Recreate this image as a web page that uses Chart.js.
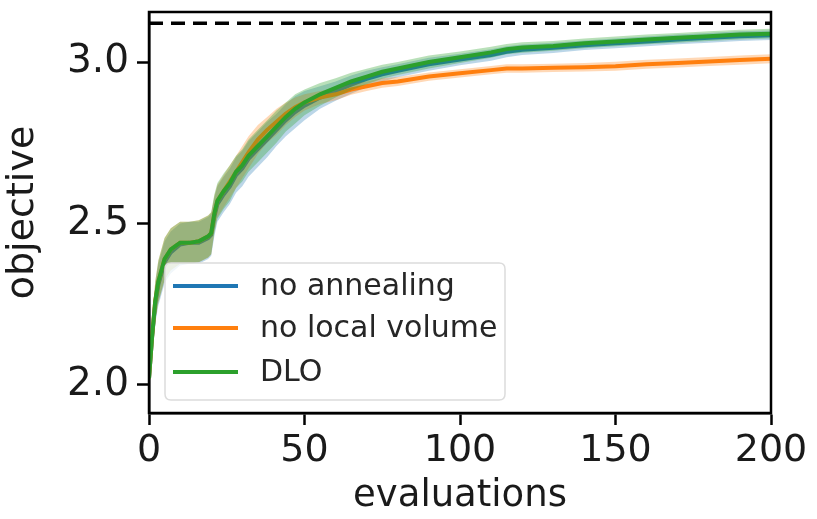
<!DOCTYPE html>
<html>
<head>
<meta charset="utf-8">
<script src="https://cdn.jsdelivr.net/npm/chart.js@4.4.1/dist/chart.umd.min.js"></script>
<style>
html,body{margin:0;padding:0;background:#fff;}
canvas{display:block;}
</style>
</head>
<body>
<canvas id="c" width="817" height="519"></canvas>
<script>
// ---- data ----
const evaluations = [0,1,2,3,5,7,10,13,16,19,20,21,22,24,26,28,30,32,35,38,41,44,47,50,55,60,65,70,75,80,90,100,110,115,120,130,140,150,160,170,180,190,200];

const seriesNames = ["no annealing", "no local volume", "DLO"];

const noAnnealingMean = [2.02,2.15,2.25,2.31,2.38,2.41,2.435,2.44,2.44,2.455,2.465,2.52,2.56,2.59,2.615,2.65,2.67,2.70,2.73,2.76,2.79,2.82,2.845,2.865,2.89,2.91,2.93,2.948,2.962,2.973,2.993,3.008,3.022,3.032,3.038,3.044,3.052,3.058,3.064,3.07,3.075,3.08,3.083];
const noAnnealingSpread = [0.03,0.05,0.06,0.065,0.065,0.065,0.065,0.065,0.065,0.065,0.065,0.06,0.055,0.055,0.055,0.055,0.055,0.055,0.055,0.055,0.05,0.05,0.05,0.045,0.035,0.03,0.028,0.025,0.022,0.02,0.02,0.018,0.018,0.017,0.016,0.016,0.015,0.015,0.015,0.015,0.015,0.015,0.015];

const noLocalVolumeMean = [2.02,2.15,2.26,2.32,2.39,2.42,2.44,2.44,2.445,2.46,2.47,2.53,2.57,2.60,2.63,2.66,2.69,2.72,2.76,2.79,2.815,2.84,2.86,2.875,2.89,2.90,2.915,2.925,2.935,2.94,2.955,2.965,2.975,2.98,2.98,2.982,2.984,2.987,2.993,2.997,3.002,3.006,3.01];
const noLocalVolumeSpread = [0.03,0.05,0.06,0.065,0.065,0.065,0.065,0.065,0.065,0.065,0.065,0.055,0.05,0.05,0.05,0.05,0.05,0.05,0.045,0.04,0.04,0.035,0.03,0.025,0.02,0.018,0.016,0.015,0.015,0.014,0.013,0.013,0.013,0.013,0.013,0.013,0.013,0.014,0.014,0.014,0.014,0.014,0.014];

const dloMean = [2.02,2.15,2.26,2.32,2.39,2.42,2.44,2.44,2.445,2.46,2.47,2.53,2.57,2.60,2.625,2.66,2.68,2.71,2.74,2.77,2.80,2.83,2.855,2.875,2.90,2.92,2.94,2.955,2.97,2.98,3.00,3.015,3.03,3.04,3.045,3.05,3.058,3.064,3.07,3.075,3.08,3.085,3.088];
const dloSpread = [0.03,0.05,0.06,0.065,0.065,0.065,0.065,0.065,0.065,0.065,0.065,0.06,0.055,0.055,0.055,0.05,0.05,0.05,0.05,0.05,0.05,0.045,0.045,0.04,0.035,0.03,0.027,0.024,0.022,0.02,0.02,0.018,0.017,0.016,0.016,0.015,0.015,0.015,0.015,0.015,0.015,0.015,0.015];

const optimumValue = 3.12;
const xTicks = [0, 50, 100, 150, 200];
const yTicks = [2.0, 2.5, 3.0];

// ---- styles ----
const colors = ["#1f77b4", "#ff7f0e", "#2ca02c"];
const bandColors = ["rgba(31,119,180,0.3)", "rgba(255,127,14,0.3)", "rgba(44,160,44,0.33)"];
const means = [noAnnealingMean, noLocalVolumeMean, dloMean];
const spreads = [noAnnealingSpread, noLocalVolumeSpread, dloSpread];

const datasets = [];
for (let s = 0; s < 3; s++) {
  const lower = evaluations.map((x, i) => ({x: x, y: means[s][i] - spreads[s][i]}));
  const upper = evaluations.map((x, i) => ({x: x, y: means[s][i] + spreads[s][i]}));
  const mean = evaluations.map((x, i) => ({x: x, y: means[s][i]}));
  const baseOrder = (2 - s) * 3;
  datasets.push({label: "_lower" + s, data: lower, borderWidth: 0, pointRadius: 0, fill: false, order: baseOrder + 2, borderColor: "rgba(0,0,0,0)"});
  datasets.push({label: "_upper" + s, data: upper, borderWidth: 0, pointRadius: 0, fill: "-1", backgroundColor: bandColors[s], order: baseOrder + 2, borderColor: "rgba(0,0,0,0)"});
  datasets.push({label: seriesNames[s], data: mean, borderColor: colors[s], borderWidth: 4, pointRadius: 0, fill: false, order: baseOrder + 1, isSeries: true});
}
datasets.push({label: "_optimum", data: [{x: xTicks[0], y: optimumValue}, {x: xTicks[xTicks.length - 1], y: optimumValue}], borderColor: "#000", borderWidth: 3.5, borderDash: [14, 8], pointRadius: 0, fill: false, order: 0});

const CHART_LEFT = 149, CHART_RIGHT = 771, CHART_TOP = 12, CHART_BOTTOM = 413;
const W = 817, H = 519;

const framePlugin = {
  id: "frame",
  afterDatasetsDraw(chart) {
    const a = chart.chartArea, ctx = chart.ctx;
    ctx.save();
    ctx.strokeStyle = "#000";
    ctx.lineWidth = 2.5;
    ctx.strokeRect(a.left, a.top, a.right - a.left, a.bottom - a.top);
    ctx.restore();
  }
};

const legendPlugin = {
  id: "customLegend",
  afterDraw(chart) {
    const ctx = chart.ctx;
    const bx = 165, by = 263, bw = 340, bh = 137, r = 6;
    ctx.save();
    ctx.beginPath();
    ctx.moveTo(bx + r, by);
    ctx.lineTo(bx + bw - r, by);
    ctx.quadraticCurveTo(bx + bw, by, bx + bw, by + r);
    ctx.lineTo(bx + bw, by + bh - r);
    ctx.quadraticCurveTo(bx + bw, by + bh, bx + bw - r, by + bh);
    ctx.lineTo(bx + r, by + bh);
    ctx.quadraticCurveTo(bx, by + bh, bx, by + bh - r);
    ctx.lineTo(bx, by + r);
    ctx.quadraticCurveTo(bx, by, bx + r, by);
    ctx.closePath();
    ctx.fillStyle = "rgba(255,255,255,0.8)";
    ctx.fill();
    ctx.strokeStyle = "#dcdcdc";
    ctx.lineWidth = 1.5;
    ctx.stroke();
    const rows = [286, 328, 372];
    const items = chart.data.datasets.filter(d => d.isSeries);
    ctx.font = "30px 'DejaVu Sans'";
    ctx.textBaseline = "middle";
    items.forEach((d, i) => {
      ctx.strokeStyle = d.borderColor;
      ctx.lineWidth = 4;
      ctx.beginPath();
      ctx.moveTo(173, rows[i]);
      ctx.lineTo(238, rows[i]);
      ctx.stroke();
      ctx.fillStyle = "#262626";
      ctx.fillText(d.label, 260, rows[i] + 1);
    });
    ctx.restore();
  }
};

Chart.defaults.font.family = "'DejaVu Sans'";
Chart.defaults.color = "#1a1a1a";

new Chart(document.getElementById("c"), {
  type: "line",
  data: {datasets: datasets},
  options: {
    responsive: false,
    animation: false,
    devicePixelRatio: 1,
    layout: {padding: {left: 0, right: W - CHART_RIGHT, top: CHART_TOP, bottom: 0}},
    plugins: {
      legend: {display: false},
      tooltip: {enabled: false},
      filler: {propagate: false}
    },
    scales: {
      x: {
        type: "linear",
        min: 0, max: 200,
        afterBuildTicks: (sc) => { sc.ticks = xTicks.map(v => ({value: v})); },
        afterFit: (sc) => { sc.height = H - CHART_BOTTOM; sc.paddingLeft = 0; sc.paddingRight = 0; },
        grid: {display: true, drawOnChartArea: false, drawTicks: true, tickLength: 12, tickWidth: 2.5, tickColor: "#000"},
        border: {display: true, color: "#000", width: 2.5},
        ticks: {font: {size: 38}, color: "#1a1a1a", padding: 3, maxRotation: 0},
        title: {display: true, text: "evaluations", font: {size: 37}, color: "#1a1a1a", padding: {top: 0, bottom: 0}}
      },
      y: {
        type: "linear",
        min: 1.913, max: 3.155,
        afterBuildTicks: (sc) => { sc.ticks = yTicks.map(v => ({value: v})); },
        afterFit: (sc) => { sc.width = CHART_LEFT; sc.paddingTop = 0; sc.paddingBottom = 0; },
        grid: {display: true, drawOnChartArea: false, drawTicks: true, tickLength: 12, tickWidth: 2.5, tickColor: "#000"},
        border: {display: true, color: "#000", width: 2.5},
        ticks: {font: {size: 39}, color: "#1a1a1a", padding: 8, callback: (v) => Number(v).toFixed(1)},
        title: {display: true, text: "objective", font: {size: 38}, color: "#1a1a1a", padding: {top: 0, bottom: 6}}
      }
    }
  },
  plugins: [framePlugin, legendPlugin]
});
</script>
</body>
</html>
